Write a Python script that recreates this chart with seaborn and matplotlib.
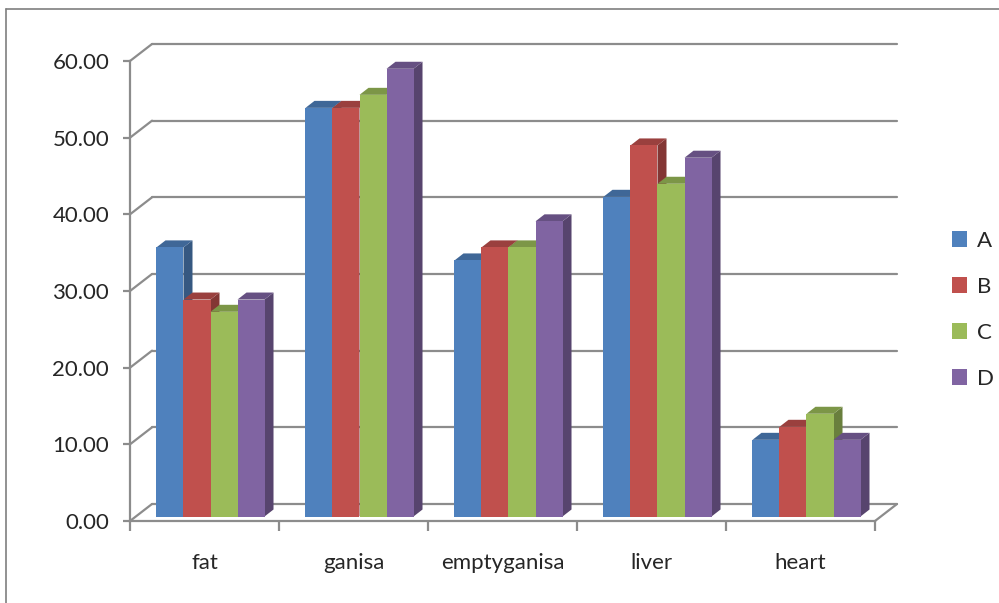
import numpy as np
import pandas as pd
import seaborn as sns
import matplotlib.pyplot as plt
import matplotlib.transforms as mtransforms
from matplotlib.patches import Polygon, Patch
from matplotlib.lines import Line2D
from matplotlib.colors import to_rgb

# ---- data -------------------------------------------------------------
categories = ["fat", "ganisa", "emptyganisa", "liver", "heart"]
series = ["A", "B", "C", "D"]
values_A = [35.1, 53.3, 33.4, 41.7, 10.0]
values_B = [28.3, 53.3, 35.1, 48.4, 11.7]
values_C = [26.7, 55.0, 35.1, 43.4, 13.4]
values_D = [28.3, 58.4, 38.5, 46.8, 10.0]
y_ticks = [0, 10, 20, 30, 40, 50, 60]

colors = ["#4F81BD", "#C0504D", "#9BBB59", "#8064A2"]

df = pd.DataFrame({
    "organ": categories * 4,
    "value": values_A + values_B + values_C + values_D,
    "group": [s for s in series for _ in categories],
})

# ---- figure / axes (front plane of the 3-D box) ---------------------------
W, H, DPI = 999, 603, 100
sns.set_style("white")
plt.rcParams["font.family"] = ["Lato", "DejaVu Sans"]
fig = plt.figure(figsize=(W / DPI, H / DPI), dpi=DPI)

left, right, y_zero, y_top = 130, 875, 521, 61
ax = fig.add_axes([left / W, (H - y_zero) / H, (right - left) / W, (y_zero - y_top) / H])
ax.set_facecolor("none")

sns.barplot(data=df, x="organ", y="value", hue="group", order=categories,
            hue_order=series, palette=colors, saturation=1, width=0.725,
            legend=False, ax=ax, edgecolor="none", linewidth=0)

ax.set_xlim(-0.5, len(categories) - 0.5)
ax.set_ylim(0, 60)

grid_col = "#8c8c8c"
text_col = "#262626"
fs = 16
wall_dx, wall_dy = 22, 17      # depth of the whole box (pixels)
bar_dx, bar_dy = 6, 4.5        # front faces of the columns sit a bit inside
col_dx, col_dy = 9, 7          # depth of each column

def shift(dx, dy):
    return mtransforms.Affine2D().translate(dx, dy)

# back wall gridlines and the diagonals joining them to the value axis
back = ax.transData + shift(wall_dx, wall_dy)
for v in y_ticks:
    ax.add_line(Line2D([-0.5, len(categories) - 0.5], [v, v], transform=back,
                       color=grid_col, lw=1.6, clip_on=False, zorder=1))
    p = ax.transData.transform((-0.5, v))
    ax.add_line(Line2D([p[0], p[0] + wall_dx], [p[1], p[1] + wall_dy],
                       transform=mtransforms.IdentityTransform(),
                       color=grid_col, lw=1.6, clip_on=False, zorder=1))
p = ax.transData.transform((len(categories) - 0.5, 0))
ax.add_line(Line2D([p[0], p[0] + wall_dx], [p[1], p[1] + wall_dy],
                   transform=mtransforms.IdentityTransform(),
                   color=grid_col, lw=1.6, clip_on=False, zorder=1))

# give every column its side and top faces
def shade(c, f):
    r, g, b = to_rgb(c)
    return (r * f, g * f, b * f)

front_tr = ax.transData + shift(bar_dx, bar_dy)
bars = sorted(ax.patches, key=lambda b: b.get_x())
for k, bar in enumerate(bars):
    x0, w, h = bar.get_x(), bar.get_width(), bar.get_height()
    fc = bar.get_facecolor()
    bar.set_transform(front_tr)
    bar.set_zorder(3 + 0.01 * k + 0.005)
    (X0, Y0), (X1, Y1) = front_tr.transform([(x0, 0), (x0 + w, h)])
    side = Polygon([(X1, Y0), (X1, Y1), (X1 + col_dx, Y1 + col_dy), (X1 + col_dx, Y0 + col_dy)],
                   closed=True, facecolor=shade(fc, 0.68), edgecolor="none",
                   transform=mtransforms.IdentityTransform(), clip_on=False,
                   zorder=3 + 0.01 * k)
    top = Polygon([(X0, Y1), (X1, Y1), (X1 + col_dx, Y1 + col_dy), (X0 + col_dx, Y1 + col_dy)],
                  closed=True, facecolor=shade(fc, 0.8), edgecolor="none",
                  transform=mtransforms.IdentityTransform(), clip_on=False,
                  zorder=3 + 0.01 * k)
    ax.add_patch(side)
    ax.add_patch(top)

# axes styling
for s in ["top", "right"]:
    ax.spines[s].set_visible(False)
for s in ["left", "bottom"]:
    ax.spines[s].set_color(grid_col)
    ax.spines[s].set_linewidth(1.6)
    ax.spines[s].set_zorder(2)

ax.set_yticks(y_ticks)
ax.set_yticklabels([f"{v:.2f}" for v in y_ticks])
ax.tick_params(axis="y", length=5, width=1.6, color=grid_col, pad=10,
               labelsize=fs, labelcolor=text_col, left=True)
ax.set_xticks(range(len(categories)))
ax.set_xticklabels(categories)
ax.set_xticks(np.arange(-0.5, len(categories), 1.0), minor=True)
ax.tick_params(axis="x", which="major", length=0, pad=23, labelsize=fs,
               labelcolor=text_col)
ax.tick_params(axis="x", which="minor", length=7, width=1.6, color=grid_col,
               bottom=True)
ax.set_xlabel("")
ax.set_ylabel("")

# legend
handles = [Patch(facecolor=c, edgecolor="none") for c in colors]
fig.legend(handles, series, loc="center left",
           bbox_to_anchor=(936 / W, (H - 310) / H), frameon=False,
           fontsize=fs, handlelength=0.7, handleheight=0.7,
           handletextpad=0.45, labelspacing=1.17, labelcolor=text_col,
           borderpad=0.2)

# chart frame
fig.add_artist(Line2D([6 / W, 1], [1 - 9 / H, 1 - 9 / H], transform=fig.transFigure,
                      color="#7f7f7f", lw=1.2))
fig.add_artist(Line2D([6 / W, 6 / W], [0, 1 - 9 / H], transform=fig.transFigure,
                      color="#7f7f7f", lw=1.2))

fig.savefig("out.png", dpi=DPI)
